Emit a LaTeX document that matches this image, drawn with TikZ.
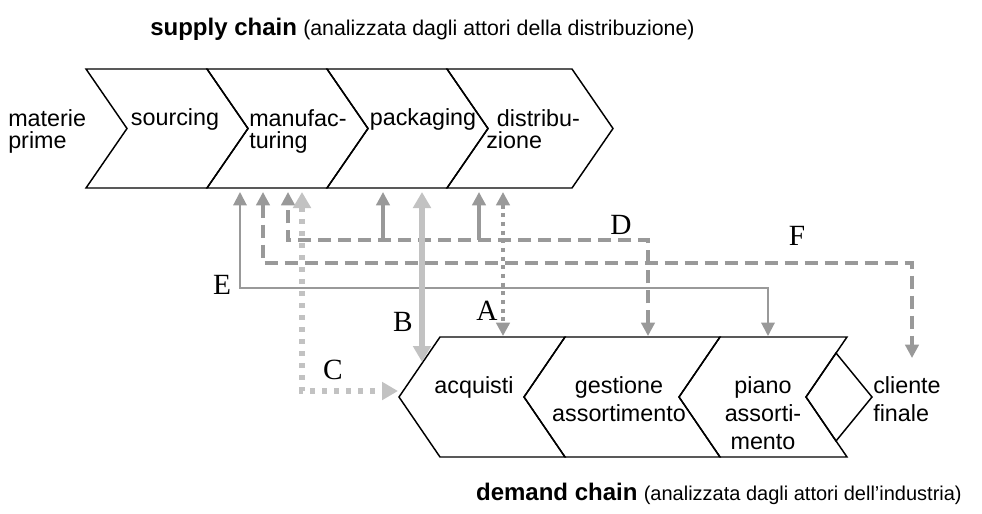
\documentclass[tikz,border=0pt]{standalone}
\usepackage{fontspec}
\setmainfont{Liberation Sans}
\newfontfamily\letterfont{Liberation Serif}
\usetikzlibrary{arrows.meta}

\definecolor{linkgray}{gray}{0.6}
\definecolor{softgray}{gray}{0.76}

\tikzset{
  chain/.style={draw,line width=1.1pt,line join=miter},
  stage/.style={inner sep=0pt,font=\fontsize{17.5}{16.5}\selectfont},
  stagelow/.style={inner sep=0pt,font=\fontsize{17.5}{21}\selectfont},
  letter/.style={inner sep=0pt,font=\letterfont\fontsize{22}{22}\selectfont},
  tipM/.style={>={Triangle[width=10pt,length=10pt]}},
  tipL/.style={>={Triangle[width=13pt,length=12pt]}},
  linkE/.style={tipM,<->,draw=linkgray,fill=none,line width=1.5pt},
  linkDF/.style={tipM,draw=linkgray,line width=2.4pt,dash pattern=on 10pt off 5pt},
  linkA/.style={tipM,<->,draw=linkgray,line width=2.8pt,dash pattern=on 3pt off 3.5pt},
  linkB/.style={tipL,<->,draw=softgray,line width=3.8pt},
  linkC/.style={tipL,<->,draw=softgray,line width=4pt,dash pattern=on 4pt off 5pt},
}

\begin{document}
\begin{tikzpicture}[x=0.75pt,y=-0.75pt,font=\fontsize{17}{16.5}\selectfont]
  \useasboundingbox (0,0) rectangle (982,514);

  % supply chain, pointing right
  \foreach \l/\r in {86/207,207/327,327/447,447/572}
    \draw[chain] (\l,69) -- (\r,69) -- (\r+41,128.5) -- (\r,188) -- (\l,188) -- (\l+41,128.5) -- cycle;

  \node[stage,anchor=base west,align=left] (raw) at (8,148) {materie\\prime};
  \node[stage,anchor=base] (src) at (175,125) {sourcing};
  \node[stage,anchor=base west,align=left] (manu) at (249,148) {manufac-\\turing};
  \node[stage,anchor=base] (pack) at (423,125) {packaging};
  \node[stage,anchor=base west,align=left] (distr) at (486,148) {\hspace*{8pt}distribu-\\zione};

  % demand chain, pointing left
  \foreach \l/\r in {440/565,565/720,720/847}
    \draw[chain] (\l,337) -- (\r,337) -- (\r-41,397) -- (\r,457) -- (\l,457) -- (\l-41,397) -- cycle;
  \draw[chain] (836,353) -- (872,397) -- (836,441) -- (806,397) -- cycle;

  \node[stagelow,anchor=base] (acq) at (474,393) {acquisti};
  \node[stagelow,anchor=base,align=center] (gest) at (619,421) {gestione\\assortimento};
  \node[stagelow,anchor=base,align=center] (piano) at (763,449) {piano\\assorti-\\mento};
  \node[stagelow,anchor=base west,align=left] (client) at (873,421) {cliente\\finale};

  % titles
  \node[inner sep=0pt,anchor=base west] (supply) at (150,35)
    {{\fontsize{18}{18}\selectfont\bfseries supply chain} {\fontsize{16}{16}\selectfont(analizzata dagli attori della distribuzione)}};
  \node[inner sep=0pt,anchor=base east] (demand) at (962,500)
    {{\fontsize{18}{18}\selectfont\bfseries demand chain} {\fontsize{15}{15}\selectfont(analizzata dagli attori dell’industria)}};

  % link ends
  \coordinate (eUp) at (240,192);
  \coordinate (fUp) at (263,192);
  \coordinate (dUp1) at (288,192);
  \coordinate (cUp) at (302,192);
  \coordinate (dUp2) at (383,192);
  \coordinate (bUp) at (422,192);
  \coordinate (dUp3) at (479,192);
  \coordinate (aUp) at (503,192);
  \coordinate (eDown) at (768,336);
  \coordinate (dDown) at (648,336);
  \coordinate (fDown) at (912,358);
  \coordinate (aDown) at (503,336);
  \coordinate (bDown) at (422,362);
  \coordinate (cDown) at (398,391);

  % links
  \draw[linkE] (eUp) -- ++(0,96) -| (eDown);
  \draw[linkDF,<->] (fUp) -- ++(0,71) -| (fDown);
  \draw[linkDF,<->] (dDown) -- ++(0,-96) -| (dUp1);
  \draw[linkDF,solid,<-] (dUp2) -- ++(0,48);
  \draw[linkDF,solid,<-] (dUp3) -- ++(0,48);
  \draw[linkA] (aUp) -- (aDown);
  \draw[linkB] (bUp) -- (bDown);
  \draw[linkC] (cUp) |- (cDown);

  \node[letter] (labA) at (487,311) {A};
  \node[letter] (labB) at (403,322) {B};
  \node[letter] (labC) at (333,370) {C};
  \node[letter] (labD) at (621,225) {D};
  \node[letter] (labE) at (222,285) {E};
  \node[letter] (labF) at (797,236) {F};
\end{tikzpicture}
\end{document}
